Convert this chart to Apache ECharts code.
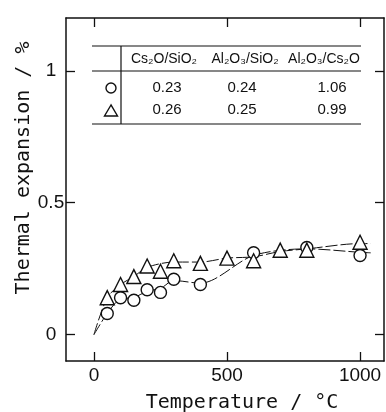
<!DOCTYPE html>
<html>
<head>
<meta charset="utf-8">
<script src="https://cdn.jsdelivr.net/npm/echarts@6/dist/echarts.min.js"></script>
<style>html,body{margin:0;padding:0;background:#fff;}#c{width:386px;height:412px;}</style>
</head>
<body>
<div id="c"></div>
<script>
// ---- data ----
const xTicks = [0, 500, 1000];
const yTicks = [0, 0.5, 1];
const circleTemps = [50, 100, 150, 200, 250, 300, 400, 600, 800, 1000];
const circleValues = [0.08, 0.14, 0.13, 0.17, 0.16, 0.21, 0.19, 0.31, 0.33, 0.30];
const triangleTemps = [50, 100, 150, 200, 250, 300, 400, 500, 600, 700, 800, 1000];
const triangleValues = [0.14, 0.19, 0.22, 0.26, 0.24, 0.28, 0.27, 0.29, 0.28, 0.32, 0.32, 0.35];
// hand-drawn fitted curves
const circleCurveTemps = [0, 50, 100, 150, 200, 250, 300, 400, 600, 800, 1000, 1040];
const circleCurveValues = [0, 0.08, 0.135, 0.14, 0.165, 0.175, 0.205, 0.195, 0.3, 0.325, 0.312, 0.31];
const triangleCurveTemps = [0, 50, 100, 150, 200, 300, 400, 500, 600, 700, 800, 1000, 1040];
const triangleCurveValues = [0, 0.14, 0.19, 0.22, 0.255, 0.275, 0.275, 0.29, 0.295, 0.315, 0.325, 0.345, 0.345];
// table
const tableHeaders = ['Cs₂O/SiO₂', 'Al₂O₃/SiO₂', 'Al₂O₃/Cs₂O'];
const circleRow = ['0.23', '0.24', '1.06'];
const triangleRow = ['0.26', '0.25', '0.99'];
const xTitle = 'Temperature / °C';
const yTitle = 'Thermal expansion / %';

const zip = (a, b) => a.map((v, i) => [v, b[i]]);
const mono = 'DejaVu Sans Mono';
const sans = 'Liberation Sans';
const ink = '#111';

const chart = echarts.init(document.getElementById('c'), null, {renderer: 'canvas'});

const axisCommon = {
  type: 'value',
  axisLine: {show: true, onZero: false, lineStyle: {color: ink, width: 1.5}},
  axisTick: {show: true, inside: true, length: 9, lineStyle: {color: ink, width: 1.3}},
  splitLine: {show: false}
};

const hdrX = [164, 245, 324];
const valX = [167, 242, 332];
const graphics = [];
[[92, 46, 361, 46], [92, 71, 361, 71], [92, 124, 361, 124], [121, 46, 121, 124]].forEach(l => {
  graphics.push({type: 'line', shape: {x1: l[0], y1: l[1], x2: l[2], y2: l[3]}, style: {stroke: ink, lineWidth: 1.2}});
});
tableHeaders.forEach((t, i) => graphics.push({type: 'text', x: hdrX[i], y: 59,
  style: {text: t, fill: ink, font: '14px ' + sans, textAlign: 'center', textVerticalAlign: 'middle'}}));
circleRow.forEach((t, i) => graphics.push({type: 'text', x: valX[i], y: 88,
  style: {text: t, fill: ink, font: '15px ' + sans, textAlign: 'center', textVerticalAlign: 'middle'}}));
triangleRow.forEach((t, i) => graphics.push({type: 'text', x: valX[i], y: 110,
  style: {text: t, fill: ink, font: '15px ' + sans, textAlign: 'center', textVerticalAlign: 'middle'}}));
graphics.push({type: 'circle', shape: {cx: 111, cy: 88, r: 5}, style: {fill: '#fff', stroke: ink, lineWidth: 1.4}});
graphics.push({type: 'polygon', shape: {points: [[111, 105], [104.5, 116], [117.5, 116]]}, style: {fill: '#fff', stroke: ink, lineWidth: 1.4}});
graphics.push({type: 'text', x: 242, y: 403,
  style: {text: xTitle, fill: ink, font: '20px ' + mono, textAlign: 'center', textVerticalAlign: 'middle'}});
graphics.push({type: 'text', x: 24, y: 168, rotation: Math.PI / 2,
  style: {text: yTitle, fill: ink, font: '20px ' + mono, textAlign: 'center', textVerticalAlign: 'middle'}});

const option = {
  backgroundColor: '#fff',
  animation: false,
  grid: {left: 66, right: 2, top: 18, bottom: 51, containLabel: false},
  xAxis: [
    Object.assign({}, axisCommon, {
      position: 'bottom', min: -105, max: 1090,
      axisTick: Object.assign({}, axisCommon.axisTick, {customValues: xTicks}),
      axisLabel: {customValues: xTicks, margin: 5, color: ink, fontFamily: sans, fontSize: 19,
        formatter: v => String(v)}
    }),
    Object.assign({}, axisCommon, {
      position: 'top', min: -105, max: 1090,
      axisTick: Object.assign({}, axisCommon.axisTick, {customValues: xTicks}),
      axisLabel: {show: false}
    })
  ],
  yAxis: [
    Object.assign({}, axisCommon, {
      position: 'left', min: -0.1, max: 1.2,
      axisTick: Object.assign({}, axisCommon.axisTick, {customValues: yTicks}),
      axisLabel: {customValues: yTicks, align: 'center', margin: 15, color: ink, fontFamily: sans, fontSize: 19,
        formatter: v => String(v)}
    }),
    Object.assign({}, axisCommon, {
      position: 'right', min: -0.1, max: 1.2,
      axisTick: Object.assign({}, axisCommon.axisTick, {customValues: yTicks}),
      axisLabel: {show: false}
    })
  ],
  series: [
    {type: 'line', data: zip(circleCurveTemps, circleCurveValues), smooth: 0.3, symbol: 'none',
      lineStyle: {color: ink, width: 1, type: [12, 3]}, z: 2},
    {type: 'line', data: zip(triangleCurveTemps, triangleCurveValues), smooth: 0.3, symbol: 'none',
      lineStyle: {color: ink, width: 1, type: [12, 3]}, z: 2},
    {type: 'scatter', data: zip(circleTemps, circleValues), symbol: 'circle', symbolSize: 12,
      itemStyle: {color: '#fff', borderColor: ink, borderWidth: 1.4, opacity: 1}, z: 3},
    {type: 'scatter', data: zip(triangleTemps, triangleValues), symbol: 'triangle', symbolSize: 14,
      itemStyle: {color: '#fff', borderColor: ink, borderWidth: 1.4, opacity: 1}, z: 4}
  ],
  graphic: graphics
};
chart.setOption(option);
</script>
</body>
</html>
